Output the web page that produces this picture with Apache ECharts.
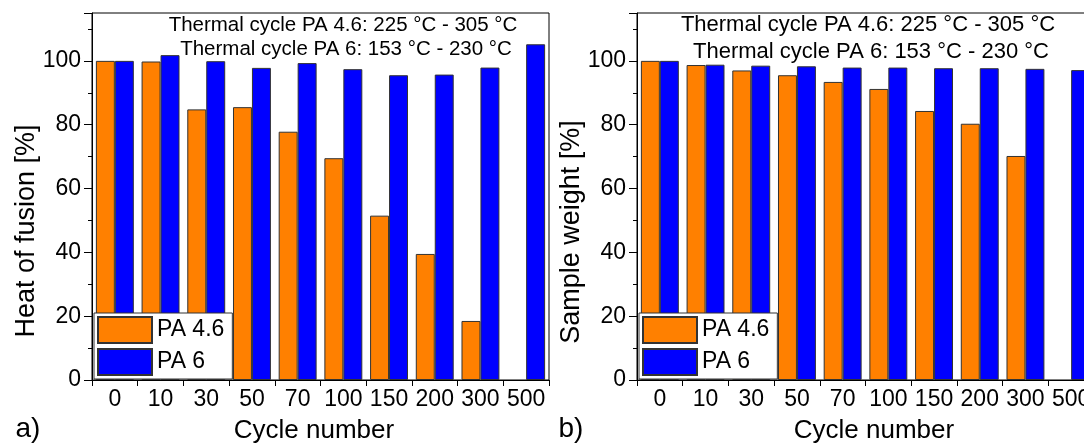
<!DOCTYPE html>
<html>
<head>
<meta charset="utf-8">
<script src="https://cdn.jsdelivr.net/npm/echarts@6/dist/echarts.min.js"></script>
<style>
  html, body { margin: 0; padding: 0; background: #fff; overflow: hidden; }
  #chart { width: 1100px; height: 446px; }
</style>
</head>
<body>
<div id="chart"></div>
<script>
// Cycle numbers on the category axis
const cycles = ['0', '10', '30', '50', '70', '100', '150', '200', '300', '500'];

// a) Heat of fusion [%]
const heatPA46 = [100, 99.8, 84.8, 85.5, 77.8, 69.5, 51.5, 39.5, 18.5, null];
const heatPA6 = [100, 101.8, 99.9, 97.8, 99.3, 97.4, 95.5, 95.7, 97.9, 105.2];

// b) Sample weight [%]
const weightPA46 = [100, 98.7, 97.0, 95.5, 93.4, 91.2, 84.3, 80.3, 70.2, null];
const weightPA6 = [100, 98.8, 98.5, 98.3, 97.9, 97.9, 97.7, 97.7, 97.5, 97.1];

const seriesNames = ['PA 4.6', 'PA 6'];
const cycleLine1 = 'Thermal cycle PA 4.6: 225 °C - 305 °C';
const cycleLine2 = 'Thermal cycle PA 6: 153 °C - 230 °C';

const FONT = 'Arial, "Liberation Sans", sans-serif';
const ORANGE = '#FF8000';
const BLUE = '#0000FF';

const chart = echarts.init(document.getElementById('chart'), null, { renderer: 'canvas' });

function xAxis(gridIndex) {
  return {
    type: 'category',
    gridIndex,
    data: cycles,
    axisLine: { lineStyle: { color: '#000', width: 1 } },
    axisTick: { show: true, length: 6, lineStyle: { color: '#000' } },
    axisLabel: { color: '#000', fontFamily: FONT, fontSize: 23, margin: 8, interval: 0, hideOverlap: false },
    splitLine: { show: false }
  };
}

function yAxis(gridIndex) {
  return {
    type: 'value',
    gridIndex,
    min: 0,
    max: 115,
    interval: 20,
    axisLine: { show: true, lineStyle: { color: '#000', width: 1 } },
    axisTick: { show: true, length: 8, lineStyle: { color: '#000' } },
    minorTick: { show: true, splitNumber: 2, length: 4, lineStyle: { color: '#000' } },
    axisLabel: { color: '#000', fontFamily: FONT, fontSize: 23, margin: 11, showMaxLabel: false },
    splitLine: { show: false }
  };
}

function barSeries(name, data, color, idx) {
  return {
    name,
    type: 'bar',
    xAxisIndex: idx,
    yAxisIndex: idx,
    data,
    barGap: '0%',
    barCategoryGap: '17%',
    itemStyle: { color, borderColor: '#333', borderWidth: 1 },
    emphasis: { disabled: true },
    animation: false
  };
}

function legend(left) {
  return {
    orient: 'vertical',
    left,
    top: 313,
    data: seriesNames,
    icon: 'rect',
    itemWidth: 54,
    itemHeight: 26,
    itemGap: 4,
    padding: [3, 8, 3, 3],
    backgroundColor: '#fff',
    borderColor: '#333',
    borderWidth: 1,
    textStyle: { color: '#000', fontFamily: FONT, fontSize: 23 },
    selectedMode: false
  };
}

function text(x, y, str, size, rotation) {
  return {
    type: 'text',
    x, y,
    rotation: rotation || 0,
    style: {
      text: str,
      fill: '#000',
      font: size + 'px ' + FONT,
      textAlign: 'center',
      textVerticalAlign: 'middle'
    },
    z: 100
  };
}

chart.setOption({
  animation: false,
  grid: [
    { left: 92, top: 13, width: 457, height: 367, show: true, borderColor: '#000', borderWidth: 1, backgroundColor: 'transparent' },
    { left: 637, top: 13, width: 457, height: 367, show: true, borderColor: '#000', borderWidth: 1, backgroundColor: 'transparent' }
  ],
  xAxis: [xAxis(0), xAxis(1)],
  yAxis: [yAxis(0), yAxis(1)],
  legend: [legend(94), legend(639)],
  series: [
    barSeries('PA 4.6', heatPA46, ORANGE, 0),
    barSeries('PA 6', heatPA6, BLUE, 0),
    barSeries('PA 4.6', weightPA46, ORANGE, 1),
    barSeries('PA 6', weightPA6, BLUE, 1)
  ],
  graphic: [
    text(343, 25, cycleLine1, 20.5),
    text(346, 49, cycleLine2, 20.5),
    text(868, 25, cycleLine1, 22),
    text(871, 52, cycleLine2, 22),
    text(27, 231, 'Heat of fusion [%]', 27, Math.PI / 2),
    text(572, 232, 'Sample weight [%]', 27, Math.PI / 2),
    text(314, 431, 'Cycle number', 26),
    text(874, 431, 'Cycle number', 26),
    text(28, 429, 'a)', 28),
    text(571, 429, 'b)', 28)
  ]
});
</script>
</body>
</html>
